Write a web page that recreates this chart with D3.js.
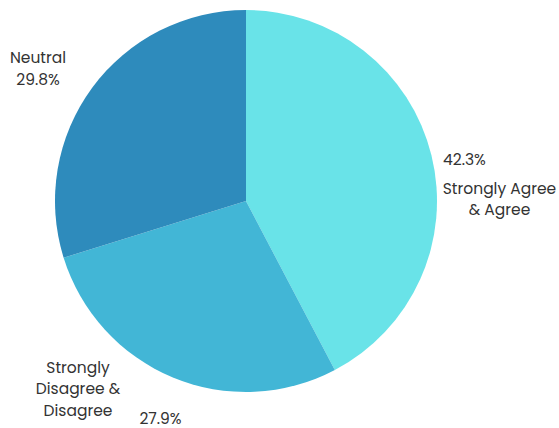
<!DOCTYPE html>
<html>
<head>
<meta charset="utf-8">
<script src="https://cdn.jsdelivr.net/npm/d3@7"></script>
<style>
  body { margin: 0; background: #fff; }
  text { font-family: "Poppins", "Inter", "Noto Sans", sans-serif; font-size: 15.5px; fill: #333; }
</style>
</head>
<body>
<div id="chart"></div>
<script>
// datos del grafico
const categorias = ["Strongly Agree & Agree", "Strongly Disagree & Disagree", "Neutral"];
const valores = [42.3, 27.9, 29.8];
const colores = ["#69e3e8", "#42b6d6", "#2e8bbc"];

const width = 559, height = 428;
const cx = 246, cy = 201, radio = 191;

const svg = d3.select("#chart")
    .append("svg")
    .attr("width", width)
    .attr("height", height);

const pie = d3.pie().sort(null).value(d => d.valor);
const arco = d3.arc().innerRadius(0).outerRadius(radio);

const datos = categorias.map((c, i) => ({ cat: c, valor: valores[i], color: colores[i] }));
const arcos = pie(datos);

const g = svg.append("g").attr("transform", `translate(${cx},${cy})`);

g.selectAll("path")
    .data(arcos)
    .enter()
    .append("path")
    .attr("d", arco)
    .attr("fill", d => d.data.color)
    .attr("stroke", "none");

// posicion de etiquetas relativa al centro (ajustado a ojo)
const etiquetas = [
    { nombre: ["Strongly Agree", "& Agree"], pct: { x: 197, y: -41, anchor: "start" }, txt: { x: 253.5, y: -2, lh: 20.5 } },
    { nombre: ["Strongly", "Disagree &", "Disagree"], pct: { x: -85.5, y: 217.5, anchor: "middle" }, txt: { x: -168, y: 188, lh: 21.5 } },
    { nombre: ["Neutral", "29.8%"], pct: null, txt: { x: -208, y: -132, lh: 22 } }
];

arcos.forEach((d, i) => {
    const e = etiquetas[i];
    if (e.pct) {
        g.append("text")
            .attr("x", e.pct.x)
            .attr("y", e.pct.y)
            .attr("dy", "0.35em")
            .attr("text-anchor", e.pct.anchor)
            .text(d.data.valor.toFixed(1) + "%");
    }
    const n = e.nombre.length;
    const txt = g.append("text")
        .attr("text-anchor", "middle");
    e.nombre.forEach((linea, j) => {
        txt.append("tspan")
            .attr("x", e.txt.x)
            .attr("y", e.txt.y + (j - (n - 1) / 2) * e.txt.lh)
            .attr("dy", "0.35em")
            .text(linea);
    });
});
</script>
</body>
</html>
